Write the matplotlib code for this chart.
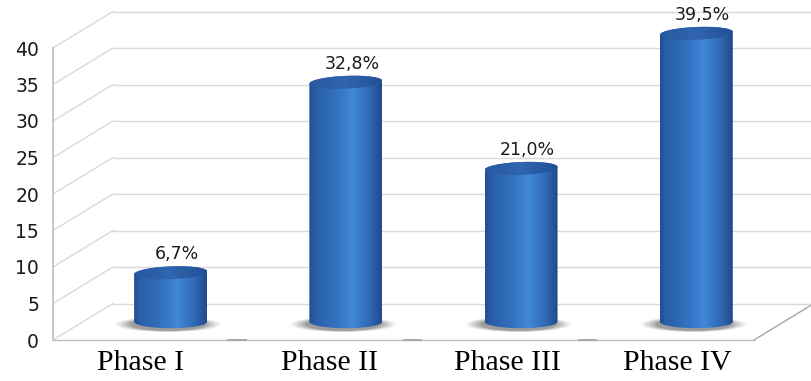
import numpy as np
import matplotlib
matplotlib.use("Agg")
import matplotlib.pyplot as plt
from matplotlib.colors import LinearSegmentedColormap
from matplotlib.patches import Ellipse, Polygon

# data
phases = ["Phase I", "Phase II", "Phase III", "Phase IV"]
values = [6.7, 32.8, 21.0, 39.5]
value_labels = ["6,7%", "32,8%", "21,0%", "39,5%"]
y_ticks = [0, 5, 10, 15, 20, 25, 30, 35, 40]

# fake-3D geometry (data units)
DEPTH_X = 0.342    # back wall offset, x
DEPTH_Y = 5.0      # back wall offset, y
RAD_X = 0.208      # cylinder half-width
RAD_Y = 0.88       # ellipse half-height
TILT = 0.2         # top ellipse perspective tilt
label_shift = [0.0, 0.08, 0.09, 0.06]

_GRID = "#d9d9d9"
_AXIS = "#bfbfbf"
_EDGE = "#a6a6a6"
_TEXT = "#1a1a1a"

body_cmap = LinearSegmentedColormap.from_list(
    "body", [(0.0, "#224d90"), (0.08, "#2b5da8"), (0.35, "#3170bd"),
             (0.6, "#4088d9"), (0.86, "#2e64ae"), (1.0, "#1e4a8c")])
top_cmap = LinearSegmentedColormap.from_list(
    "top", [(0.0, "#2858a2"), (0.5, "#3065af"), (1.0, "#214f95")])
grad = np.linspace(0, 1, 256).reshape(1, -1)

y_top = y_ticks[-1] + DEPTH_Y + 1
x0, x1 = -0.5, len(phases) - 0.5
px_x = 175.25   # pixels per category
px_y = 7.3      # pixels per value unit

fig = plt.figure(figsize=(8.11, 3.81), dpi=100, facecolor="white")
ax = fig.add_axes([53 / 811, 41 / 381, (x1 + DEPTH_X - x0) * px_x / 811, y_top * px_y / 381])
ax.set_facecolor("none")
for s in ax.spines.values():
    s.set_visible(False)

# walls and floor
for v in y_ticks:
    ax.plot([x0 + DEPTH_X, x1 + DEPTH_X], [v + DEPTH_Y, v + DEPTH_Y],
            color=_GRID, lw=1, zorder=1, clip_on=False)
    ax.plot([x0, x0 + DEPTH_X], [v, v + DEPTH_Y],
            color=_GRID, lw=1, zorder=1, clip_on=False)
ax.plot([x0, x0], [0, y_ticks[-1]], color=_AXIS, lw=1.2, zorder=1, clip_on=False)
ax.plot([x0, x1], [0, 0], color=_AXIS, lw=1, zorder=1, clip_on=False)
ax.plot([x1, x1 + DEPTH_X], [0, DEPTH_Y], color=_EDGE, lw=1, zorder=1, clip_on=False)
for i in range(len(phases) - 1):
    ax.plot([i + 0.5, i + 0.6], [0, 0], color=_EDGE, lw=1.4, zorder=1, clip_on=False)

# cylinders
base = DEPTH_Y / 2
for i, v in enumerate(values):
    cx = i + DEPTH_X / 2
    top = base + v

    # soft shadow under the base
    for k, alpha in zip(np.linspace(1.45, 1.05, 6), [0.06, 0.07, 0.09, 0.11, 0.13, 0.16]):
        ax.add_patch(Ellipse((cx - 0.015, base - 0.35), 2 * RAD_X * k,
                             2 * RAD_Y * (0.55 + 0.45 * k), facecolor="#3a3a3a",
                             edgecolor="none", alpha=alpha, zorder=2))

    t_bot = np.linspace(np.pi, 2 * np.pi, 80)
    t_top = np.linspace(0, np.pi, 80)
    xs = np.concatenate([cx + RAD_X * np.cos(t_bot), cx + RAD_X * np.cos(t_top)])
    ys = np.concatenate([base + RAD_Y * np.sin(t_bot),
                         top + RAD_Y * np.sin(t_top) + TILT * np.cos(t_top)])
    body = Polygon(np.column_stack([xs, ys]), closed=True, facecolor="none",
                   edgecolor="none", zorder=3)
    ax.add_patch(body)
    im = ax.imshow(grad, cmap=body_cmap, aspect="auto", interpolation="bicubic",
                   extent=[cx - RAD_X, cx + RAD_X, base - RAD_Y - 1, top + RAD_Y + 1],
                   origin="lower", zorder=3)
    im.set_clip_path(body)

    t = np.linspace(0, 2 * np.pi, 160)
    cap = Polygon(np.column_stack([cx + RAD_X * np.cos(t),
                                   top + RAD_Y * np.sin(t) + TILT * np.cos(t)]),
                  closed=True, facecolor="none", edgecolor="none", zorder=4)
    ax.add_patch(cap)
    im2 = ax.imshow(grad, cmap=top_cmap, aspect="auto", interpolation="bicubic",
                    extent=[cx - RAD_X, cx + RAD_X, top - RAD_Y - 1, top + RAD_Y + 1],
                    origin="lower", zorder=4)
    im2.set_clip_path(cap)

    ax.text(cx + 0.035, top + RAD_Y + 1.0, value_labels[i], ha="center",
            va="baseline", fontsize=12.5, color=_TEXT, zorder=5)

ax.set_xlim(x0, x1 + DEPTH_X)
ax.set_ylim(0, y_top)
ax.set_yticks(y_ticks)
ax.set_yticklabels([str(v) for v in y_ticks], fontsize=13.5, color=_TEXT)
ax.set_xticks([i + label_shift[i] for i in range(len(phases))])
ax.set_xticklabels(phases, fontsize=21.5, family="Liberation Serif", color="black")
ax.tick_params(axis="y", length=0, pad=10)
ax.tick_params(axis="x", length=0, pad=7)

fig.savefig("out.png", dpi=100, facecolor="white")
